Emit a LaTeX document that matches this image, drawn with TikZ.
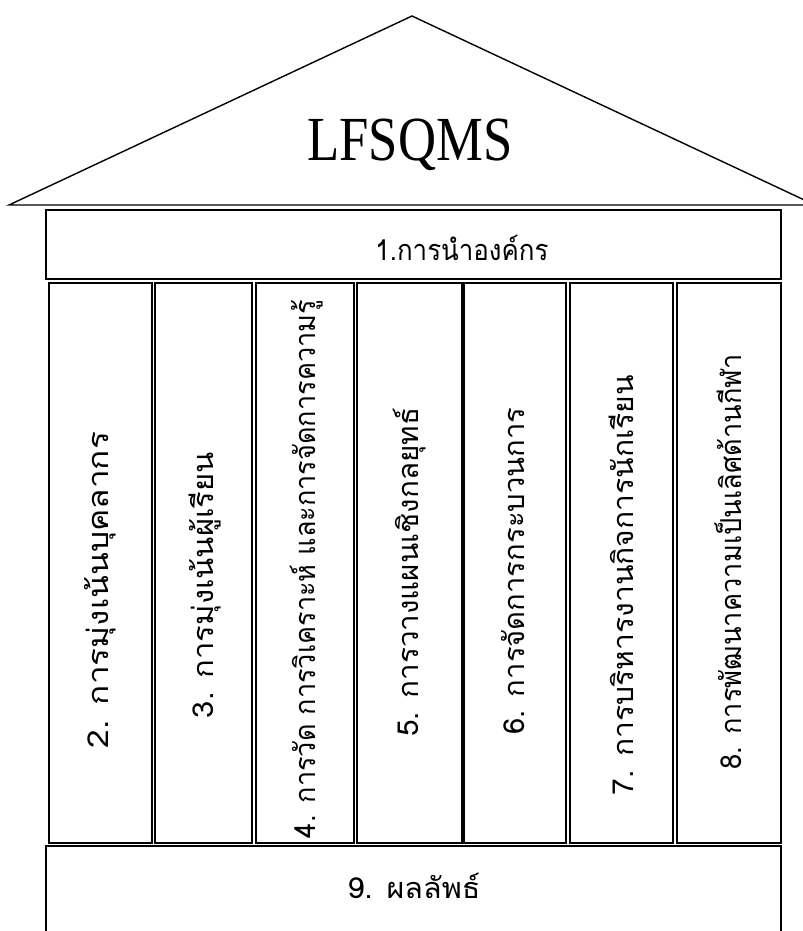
\documentclass[tikz,border=0pt]{standalone}
\usepackage{fontspec}
\usepackage{graphicx}
\setmainfont{Liberation Serif}
\newfontfamily\thaifont[Script=Thai]{Loma}
% stretch a label to a given length while keeping its height
\newcommand{\fitto}[2]{\resizebox{#1bp}{\height}{#2}}
\begin{document}
\begin{tikzpicture}[x=1bp,y=-1bp]
\tikzset{
  frame/.style={draw=black, line width=1.4bp, line join=miter},
  pillar/.style={frame, minimum height=560bp, inner sep=0pt},
  thaitext/.style={inner sep=0pt, font=\thaifont\fontsize{29}{33}\selectfont},
  uptext/.style={thaitext, rotate=90},
  title/.style={inner sep=0pt, font=\fontsize{63}{66}\selectfont}
}
\useasboundingbox (0,0) rectangle (803,931);
\begin{scope}
  \clip (0,0) rectangle (803,931);
  % roof
  \draw[frame] (9,205) coordinate (eaveL) -- (412,16) coordinate (apex)
       -- (815,205) coordinate (eaveR) -- cycle;
  \node[title] (name) at (410,145) {\fitto{205}{LFSQMS}};
  % leadership beam
  \node[frame, minimum width=735bp, minimum height=69bp, inner sep=0pt] (lead) at (413.5,244.5) {};
  \node[thaitext] (leadtxt) at (462,248) {\fitto{173}{1.การนำองค์กร}};
  % pillars
  \node[pillar, minimum width=103bp] (p2) at (100.5,563) {};
  \node[pillar, minimum width=97bp]  (p3) at (203.5,563) {};
  \node[pillar, minimum width=98bp]  (p4) at (305,563) {};
  \node[pillar, minimum width=105bp] (p5) at (409.5,563) {};
  \node[pillar, minimum width=102bp] (p6) at (515,563) {};
  \node[pillar, minimum width=103bp] (p7) at (621.5,563) {};
  \node[pillar, minimum width=104bp] (p8) at (729,563) {};
  \node[uptext] (t2) at (100,590) {\fitto{316}{2. การมุ่งเน้นบุคลากร}};
  \node[uptext] (t3) at (205,585) {\fitto{266}{3. การมุ่งเน้นผู้เรียน}};
  \node[uptext] (t4) at (307,569) {\fitto{538}{4. การวัด การวิเคราะห์ และการจัดการความรู้}};
  \node[uptext] (t5) at (410,572) {\fitto{329}{5. การวางแผนเชิงกลยุทธ์}};
  \node[uptext] (t6) at (513,571) {\fitto{327}{6. การจัดการกระบวนการ}};
  \node[uptext] (t7) at (621,585) {\fitto{420}{7. การบริหารงานกิจการนักเรียน}};
  \node[uptext] (t8) at (728,562) {\fitto{415}{8. การพัฒนาความเป็นเลิศด้านกีฬา}};
  % results base
  \draw[frame] (46,846) rectangle (781,945);
  \node[thaitext] (res) at (414,886) {\fitto{133}{9. ผลลัพธ์}};
\end{scope}
\end{tikzpicture}
\end{document}
